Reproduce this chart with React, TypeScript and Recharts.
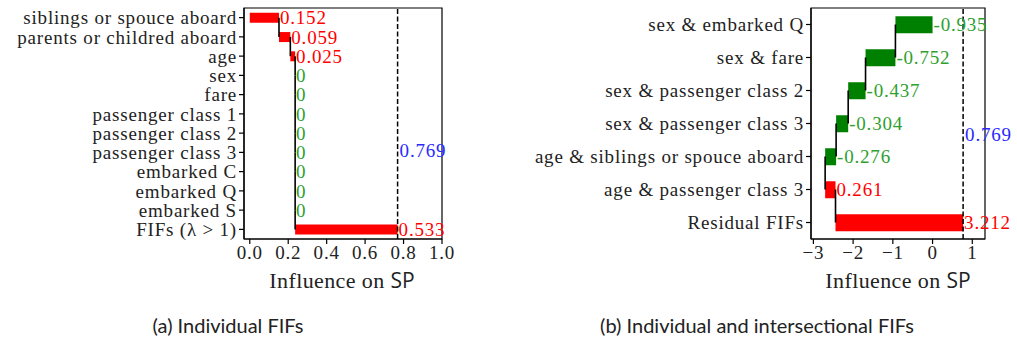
import React from "react";
import {
  Bar,
  BarChart,
  Cell,
  ReferenceArea,
  ReferenceDot,
  ReferenceLine,
  XAxis,
  YAxis,
} from "recharts";

const RED = "#ff0000";
const GREEN = "#008000";
const GREEN_TEXT = "#2f9f2f";
const BLUE = "#2a2aff";
const SERIF = "'Liberation Serif', serif";
const FS = 19;
const LS = 0.8;

// (a) individual FIFs
const indivCats = [
  "siblings or spouce aboard",
  "parents or childred aboard",
  "age",
  "sex",
  "fare",
  "passenger class 1",
  "passenger class 2",
  "passenger class 3",
  "embarked C",
  "embarked Q",
  "embarked S",
  "FIFs (λ > 1)",
];
const indivVals = [0.152, 0.059, 0.025, 0, 0, 0, 0, 0, 0, 0, 0, 0.533];
const indivTicks = [0, 0.2, 0.4, 0.6, 0.8, 1.0];

// (b) individual and intersectional FIFs
const interCats = [
  "sex & embarked Q",
  "sex & fare",
  "sex & passenger class 2",
  "sex & passenger class 3",
  "age & siblings or spouce aboard",
  "age & passenger class 3",
  "Residual FIFs",
];
const interVals = [-0.935, -0.752, -0.437, -0.304, -0.276, 0.261, 3.212];
const interTicks = [-3, -2, -1, 0, 1];

const totalSP = 0.769;

type Row = { name: string; value: number; lo: number; hi: number; end: number };

function buildRows(cats: string[], vals: number[]): Row[] {
  let acc = 0;
  return cats.map((name, i) => {
    const start = acc;
    acc = +(acc + vals[i]).toFixed(6);
    return { name, value: vals[i], lo: Math.min(start, acc), hi: Math.max(start, acc), end: acc };
  });
}

const tickStyle = { fill: "#222", fontFamily: SERIF, fontSize: FS, letterSpacing: LS };

function Panel({ cats, vals, domain, ticks, fmt, left, width, yWidth, marginRight, labelFrac }: {
  cats: string[];
  vals: number[];
  domain: [number, number];
  ticks: number[];
  fmt: (v: number) => string;
  left: number;
  width: number;
  yWidth: number;
  marginRight: number;
  labelFrac: number;
}) {
  const rows = buildRows(cats, vals);
  return (
    <div style={{ position: "absolute", left, top: 0 }}>
      <BarChart
        width={width}
        height={300}
        data={rows}
        layout="vertical"
        barCategoryGap="25%"
        margin={{ top: 8, right: marginRight, bottom: 21, left: 0 }}
      >
        <XAxis
          type="number"
          domain={domain}
          ticks={ticks}
          tickFormatter={fmt}
          allowDataOverflow
          height={40}
          tickSize={5}
          tickLine={{ stroke: "#000", strokeWidth: 1.2 }}
          axisLine={{ stroke: "#000", strokeWidth: 1.2 }}
          tick={tickStyle}
        />
        <YAxis
          type="category"
          dataKey="name"
          width={yWidth}
          tickSize={5}
          tickLine={{ stroke: "#000", strokeWidth: 1.2 }}
          axisLine={{ stroke: "#000", strokeWidth: 1.2 }}
          tick={tickStyle}
          interval={0}
        />
        <ReferenceArea
          x1={domain[0]}
          x2={domain[1]}
          y1={cats[0]}
          y2={cats[cats.length - 1]}
          fill="none"
          stroke="#000"
          strokeWidth={1.2}
          ifOverflow="visible"
        />
        <Bar dataKey={(d: Row) => [d.lo, d.hi]} isAnimationActive={false}>
          {rows.map((r) => (
            <Cell key={r.name} fill={r.value > 0 ? RED : GREEN} />
          ))}
        </Bar>
        {rows.slice(0, -1).map((r, i) => (
          <ReferenceLine
            key={"c" + i}
            segment={[
              { x: r.end, y: r.name },
              { x: r.end, y: rows[i + 1].name },
            ]}
            stroke="#000"
            strokeWidth={1.6}
          />
        ))}
        {rows.map((r) => (
          <ReferenceDot
            key={"l" + r.name}
            x={r.hi}
            y={r.name}
            r={0.01}
            fill="none"
            stroke="none"
            ifOverflow="visible"
            label={(p: any) => (
              <text
                x={p.viewBox.x + 1}
                y={p.viewBox.y + p.viewBox.height / 2}
                dy="0.36em"
                fill={r.value > 0 ? RED : GREEN_TEXT}
                fontFamily={SERIF}
                fontSize={FS}
                letterSpacing={LS}
              >
                {String(r.value)}
              </text>
            )}
          />
        ))}
        <ReferenceLine
          x={totalSP}
          stroke="#000"
          strokeWidth={1.5}
          strokeDasharray="5 2.5"
          label={(p: any) => {
            const vb = p.viewBox;
            return (
              <text
                x={vb.x + 2}
                y={vb.y + vb.height * labelFrac}
                dy="0.36em"
                fill={BLUE}
                fontFamily={SERIF}
                fontSize={FS}
                letterSpacing={LS}
              >
                {String(totalSP)}
              </text>
            );
          }}
        />
      </BarChart>
    </div>
  );
}

function AxisTitle({ cx }: { cx: number }) {
  return (
    <div
      style={{
        position: "absolute",
        left: cx - 100,
        width: 200,
        top: 266,
        textAlign: "center",
        fontFamily: SERIF,
        fontSize: 22,
        letterSpacing: 0.4,
        color: "#222",
        lineHeight: "28px",
      }}
    >
      Influence on <span style={{ fontFamily: "'Open Sans', sans-serif", fontSize: 21, letterSpacing: 0 }}>SP</span>
    </div>
  );
}

function Caption({ cx, text }: { cx: number; text: string }) {
  return (
    <div
      style={{
        position: "absolute",
        left: cx - 200,
        width: 400,
        top: 312,
        textAlign: "center",
        fontFamily: "Lato, sans-serif",
        fontSize: 20,
        color: "#222",
        lineHeight: "26px",
      }}
    >
      {text}
    </div>
  );
}

export default function App() {
  return (
    <div style={{ position: "absolute", left: 0, top: 0, width: 1017, height: 343, background: "#fff" }}>
      <Panel
        cats={indivCats}
        vals={indivVals}
        domain={[-0.03, 1.0]}
        ticks={indivTicks}
        fmt={(v) => v.toFixed(1)}
        left={0}
        width={470}
        yWidth={244}
        marginRight={28}
        labelFrac={0.617}
      />
      <Panel
        cats={interCats}
        vals={interVals}
        domain={[-3.06, 1.32]}
        ticks={interTicks}
        fmt={(v) => (v < 0 ? "\u2212" + Math.abs(v) : String(v))}
        left={520}
        width={497}
        yWidth={291}
        marginRight={32}
        labelFrac={0.548}
      />
      <AxisTitle cx={342} />
      <AxisTitle cx={898} />
      <Caption cx={228} text="(a) Individual FIFs" />
      <Caption cx={757} text="(b) Individual and intersectional FIFs" />
    </div>
  );
}
